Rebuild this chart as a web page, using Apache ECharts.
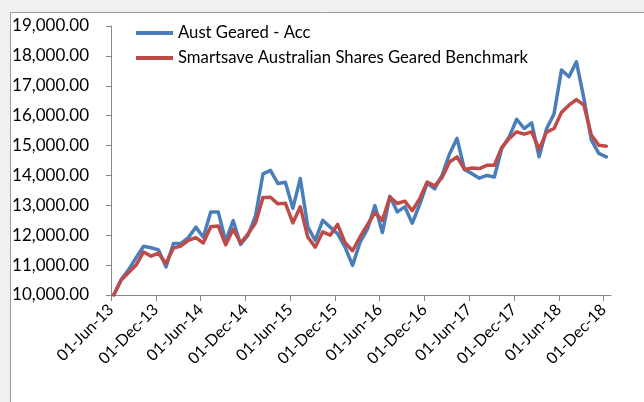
<!DOCTYPE html>
<html>
<head>
<meta charset="utf-8">
<script src="https://cdn.jsdelivr.net/npm/echarts@6/dist/echarts.min.js"></script>
<style>
  html, body { margin: 0; padding: 0; background: #f0f0f0; }
  #chart { width: 644px; height: 402px; }
</style>
</head>
<body>
<div id="chart"></div>
<script>
// Series names
const seriesNames = ['Aust Geared - Acc', 'Smartsave Australian Shares Geared Benchmark'];

// Observation months (monthly, Jun-2013 .. Dec-2018), observed on day 12 of each month
const startYear = 2013, startMonth = 6, obsDay = 12;
const monthCount = 67;

// Aust Geared - Acc (monthly values)
const austGeared = [
  10000, 10520, 10850, 11250, 11630, 11580, 11510, 10940, 11720, 11730,
  11920, 12270, 11930, 12780, 12780, 11800, 12490, 11690, 12000, 12650,
  14050, 14170, 13730, 13770, 12900, 13900, 12280, 11830, 12500, 12270,
  12050, 11600, 10990, 11760, 12200, 12990, 12090, 13300, 12780, 12950,
  12400, 13030, 13740, 13550, 14010, 14720, 15240, 14200, 14060, 13910,
  14000, 13950, 14900, 15300, 15880, 15570, 15760, 14620, 15560, 16060,
  17530, 17300, 17800, 16580, 15180, 14740, 14620
];

// Smartsave Australian Shares Geared Benchmark (monthly values)
const benchmark = [
  10000, 10500, 10750, 11000, 11440, 11300, 11400, 11050, 11570, 11640,
  11830, 11920, 11740, 12280, 12310, 11680, 12200, 11740, 12050, 12410,
  13260, 13270, 13050, 13070, 12410, 12950, 11940, 11600, 12110, 12000,
  12360, 11750, 11480, 11940, 12350, 12760, 12500, 13280, 13060, 13140,
  12820, 13220, 13780, 13650, 13930, 14450, 14620, 14200, 14250, 14230,
  14340, 14340, 14940, 15240, 15460, 15380, 15460, 14880, 15450, 15570,
  16110, 16350, 16540, 16350, 15350, 15010, 14980
];

// Axis tick labels
const xTickLabels = ['01-Jun-13','01-Dec-13','01-Jun-14','01-Dec-14','01-Jun-15','01-Dec-15',
                     '01-Jun-16','01-Dec-16','01-Jun-17','01-Dec-17','01-Jun-18','01-Dec-18'];
const yTickLabels = ['10,000.00','11,000.00','12,000.00','13,000.00','14,000.00',
                     '15,000.00','16,000.00','17,000.00','18,000.00','19,000.00'];

// month position (months since 01-Jun-13) of each observation
const obsPos = [];
for (let i = 0; i < monthCount; i++) obsPos.push(i + (obsDay - 1) / 30);

const toPairs = vals => vals.map((v, i) => [obsPos[i], v]);
const tickVals = xTickLabels.map((_, k) => k * 6);

const FONT = 'Lato';
const chart = echarts.init(document.getElementById('chart'), null, { renderer: 'canvas' });
chart.setOption({
  backgroundColor: '#f0f0f0',
  animation: false,
  textStyle: { fontFamily: FONT },
  graphic: [{
    type: 'rect', z: -10, silent: true,
    shape: { x: 10.5, y: 12.5, width: 700, height: 500 },
    style: { fill: '#ffffff', stroke: '#9c9c9c', lineWidth: 1 }
  }],
  grid: { left: 111, right: 33, top: 26, bottom: 107, containLabel: false },
  legend: {
    orient: 'vertical', left: 131, top: 19,
    itemWidth: 37, itemHeight: 4, itemGap: 7, icon: 'rect',
    textStyle: { fontFamily: FONT, fontSize: 16.7, color: '#000', lineHeight: 18 },
    data: seriesNames
  },
  xAxis: {
    type: 'value', min: 0, max: 67, interval: 6,
    axisLine: { show: true, lineStyle: { color: '#868686', width: 1 } },
    axisTick: { show: true, length: 6, lineStyle: { color: '#868686' }, customValues: tickVals },
    axisLabel: {
      rotate: 45, margin: 12, fontSize: 16, color: '#000', fontFamily: FONT,
      customValues: tickVals,
      formatter: v => xTickLabels[Math.round(v / 6)] || ''
    },
    splitLine: { show: false }
  },
  yAxis: {
    type: 'value', min: 10000, max: 19000, interval: 1000,
    axisLine: { show: true, lineStyle: { color: '#868686', width: 1 } },
    axisTick: { show: true, length: 5, lineStyle: { color: '#868686' } },
    axisLabel: {
      margin: 22, fontSize: 17, color: '#000', fontFamily: FONT,
      formatter: v => yTickLabels[Math.round((v - 10000) / 1000)]
    },
    splitLine: { show: false }
  },
  series: [
    {
      name: seriesNames[0], type: 'line', data: toPairs(austGeared),
      symbol: 'none', lineStyle: { color: '#4A7EBB', width: 3.5, cap: 'round', join: 'round' },
      itemStyle: { color: '#4A7EBB' }, z: 2
    },
    {
      name: seriesNames[1], type: 'line', data: toPairs(benchmark),
      symbol: 'none', lineStyle: { color: '#BE4B48', width: 3.5, cap: 'round', join: 'round' },
      itemStyle: { color: '#BE4B48' }, z: 3
    }
  ]
});
</script>
</body>
</html>
